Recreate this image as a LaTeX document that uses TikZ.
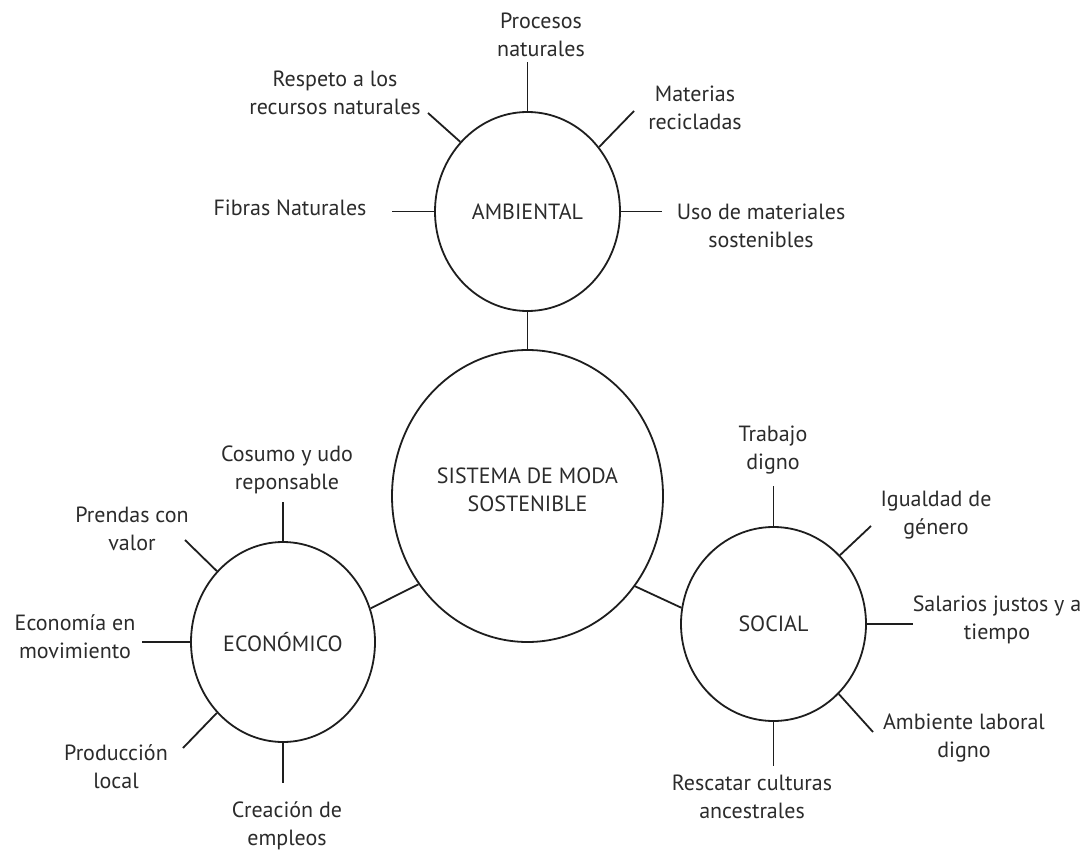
\documentclass[tikz,border=0pt]{standalone}
\usepackage{fontspec}
\setmainfont{PT Sans}
\usetikzlibrary{shapes.geometric}
\definecolor{linec}{HTML}{1e1e1e}
\definecolor{txt}{HTML}{2b2b2b}
\begin{document}
\begin{tikzpicture}[x=1pt,y=-1pt,
  bub/.style={ellipse,draw=linec,line width=1.8pt,inner sep=0pt,align=center,
    font=\fontsize{22}{28}\selectfont,text=txt},
  lbl/.style={align=center,font=\fontsize{22}{28}\selectfont,text=txt,inner sep=0pt},
  spoke/.style={draw=linec,line width=1.8pt}]
\useasboundingbox[fill=white] (0,0) rectangle (1092,853);

% bubbles
\node[bub,minimum width=271pt,minimum height=292pt] (main) at (527.5,496) {};
\node[lbl] (maintext) at (527.5,489.5) {SISTEMA DE MODA\\SOSTENIBLE};
\node[bub,minimum width=185pt,minimum height=199pt] (amb) at (527.5,211.5) {AMBIENTAL};
\node[bub,minimum width=184pt,minimum height=200pt] (eco) at (283,642) {ECONÓMICO};
\node[bub,minimum width=185pt,minimum height=194pt] (soc) at (773.5,624) {SOCIAL};

% links between bubbles
\draw[spoke] (amb.270) -- (main.90);
\draw[spoke] (main.219.4) -- (eco.21);
\draw[spoke] (main.320.6) -- (soc.170.1);

% free ends of spokes
\coordinate (a1) at (527.5,62);
\coordinate (a2) at (428,113);
\coordinate (a3) at (634,111);
\coordinate (a4) at (392,211.5);
\coordinate (a5) at (662,211.5);
\coordinate (e1) at (283,502);
\coordinate (e2) at (185,540);
\coordinate (e3) at (142,642);
\coordinate (e4) at (183,748);
\coordinate (e5) at (283,783);
\coordinate (s1) at (773.5,486);
\coordinate (s2) at (871,526);
\coordinate (s3) at (913,624);
\coordinate (s4) at (873,732);
\coordinate (s5) at (773.5,766);

% spokes
\draw[spoke] (amb.90) -- (a1);
\draw[spoke] (amb.134.6) -- (a2);
\draw[spoke] (amb.42.5) -- (a3);
\draw[spoke] (amb.180) -- (a4);
\draw[spoke] (amb.0) -- (a5);
\draw[spoke] (eco.90) -- (e1);
\draw[spoke] (eco.133.7) -- (e2);
\draw[spoke] (eco.180) -- (e3);
\draw[spoke] (eco.227.1) -- (e4);
\draw[spoke] (eco.270) -- (e5);
\draw[spoke] (soc.90) -- (s1);
\draw[spoke] (soc.46.5) -- (s2);
\draw[spoke] (soc.0) -- (s3);
\draw[spoke] (soc.313.1) -- (s4);
\draw[spoke] (soc.270) -- (s5);

% labels
\node[lbl] (la1) at (541,34.5) {Procesos\\naturales};
\node[lbl] (la2) at (335,92.5) {Respeto a los\\recursos naturales};
\node[lbl] (la3) at (695,108) {Materias\\recicladas};
\node[lbl] (la4) at (290,208) {Fibras Naturales};
\node[lbl] (la5) at (761,225.5) {Uso de materiales\\sostenibles};
\node[lbl] (le1) at (287,469.5) {Cosumo y udo\\reponsable};
\node[lbl] (le2) at (132,528.5) {Prendas con\\valor};
\node[lbl] (le3) at (75,636.5) {Economía en\\movimiento};
\node[lbl] (le4) at (116,766.5) {Producción\\local};
\node[lbl] (le5) at (287,825.5) {Creación de\\empleos};
\node[lbl] (ls1) at (773,450.5) {Trabajo\\digno};
\node[lbl] (ls2) at (936,515.5) {Igualdad de\\género};
\node[lbl] (ls3) at (997,620) {Salarios justos y a\\tiempo};
\node[lbl] (ls4) at (964,738.5) {Ambiente laboral\\digno};
\node[lbl] (ls5) at (752,797) {Rescatar culturas\\ancestrales};
\end{tikzpicture}
\end{document}
